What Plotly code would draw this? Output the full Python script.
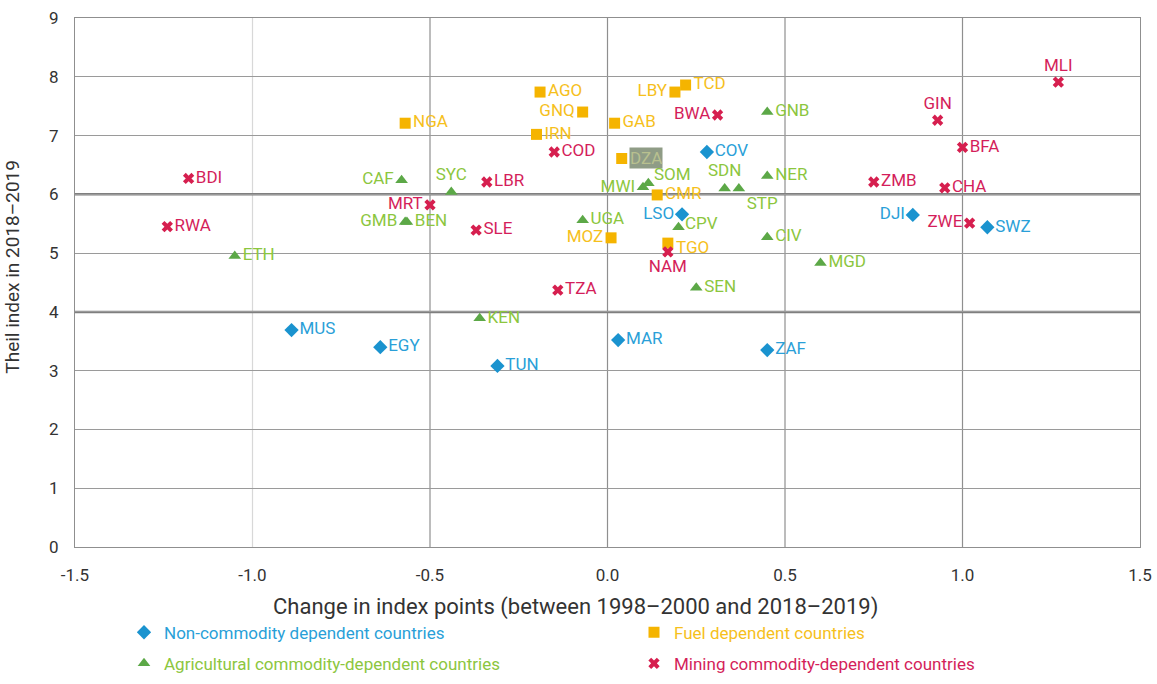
import plotly.graph_objects as go

# Country groups: codes, change in index points (x), Theil index 2018-2019 (y)
non_codes = ["MUS", "EGY", "TUN", "MAR", "ZAF", "LSO", "COV", "DJI", "SWZ"]
non_x = [-0.89, -0.64, -0.31, 0.03, 0.45, 0.21, 0.28, 0.86, 1.07]
non_y = [3.69, 3.40, 3.08, 3.52, 3.35, 5.66, 6.72, 5.65, 5.44]

fuel_codes = ["NGA", "AGO", "GNQ", "IRN", "GAB", "LBY", "TCD", "DZA", "CMR", "MOZ", "TGO"]
fuel_x = [-0.57, -0.19, -0.07, -0.20, 0.02, 0.19, 0.22, 0.04, 0.14, 0.01, 0.17]
fuel_y = [7.21, 7.74, 7.40, 7.02, 7.21, 7.74, 7.86, 6.61, 5.99, 5.26, 5.17]

agri_codes = ["ETH", "CAF", "GMB", "BEN", "SYC", "UGA", "MWI", "SOM", "CPV", "SDN",
              "STP", "GNB", "NER", "CIV", "SEN", "MGD", "KEN"]
agri_x = [-1.05, -0.58, -0.57, -0.565, -0.44, -0.07, 0.10, 0.115, 0.20, 0.33,
          0.37, 0.45, 0.45, 0.45, 0.25, 0.60, -0.36]
agri_y = [4.95, 6.24, 5.53, 5.53, 6.04, 5.56, 6.12, 6.19, 5.44, 6.10,
          6.10, 7.40, 6.31, 5.27, 4.41, 4.83, 3.89]

mine_codes = ["BDI", "RWA", "MRT", "LBR", "SLE", "COD", "TZA", "NAM", "BWA",
              "GIN", "MLI", "BFA", "ZMB", "CHA", "ZWE"]
mine_x = [-1.18, -1.24, -0.50, -0.34, -0.37, -0.15, -0.14, 0.17, 0.31,
          0.93, 1.27, 1.00, 0.75, 0.95, 1.02]
mine_y = [6.27, 5.45, 5.82, 6.21, 5.39, 6.72, 4.37, 5.02, 7.35,
          7.26, 7.91, 6.80, 6.21, 6.11, 5.51]

x_ticks = [-1.5, -1.0, -0.5, 0.0, 0.5, 1.0, 1.5]
y_ticks = list(range(0, 10))

# Label placement for codes whose label is not to the right of the marker
label_side = {
    "LSO": "middle left", "DJI": "middle left", "GNQ": "middle left",
    "LBY": "middle left", "MOZ": "middle left", "CAF": "middle left",
    "GMB": "middle left", "MWI": "middle left", "MRT": "middle left",
    "BWA": "middle left", "ZWE": "middle left",
    "SYC": "top center", "SDN": "top center", "GIN": "top center",
    "MLI": "top center",
    "STP": "bottom right", "NAM": "bottom center",
}
# Labels drawn as annotations: (x shift, y shift, background)
annotated_labels = {
    "DZA": (7, 0, "#8f9c86"),
    "SOM": (5, 9, None),
    "CPV": (5, 4, None),
    "TGO": (7, -4, None),
}

FONT = "Roboto, Liberation Sans, sans-serif"
LABEL_SIZE = 17

groups = [
    ("Non-commodity dependent countries", non_codes, non_x, non_y,
     "diamond", 11, "#1a93cf", "#2a9fd8", "legend"),
    ("Fuel dependent countries", fuel_codes, fuel_x, fuel_y,
     "square", 11, "#f5b400", "#f6c01c", "legend2"),
    ("Agricultural commodity-dependent countries", agri_codes, agri_x, agri_y,
     "triangle-up", 11, "#5ca847", "#8cc63e", "legend"),
    ("Mining commodity-dependent countries", mine_codes, mine_x, mine_y,
     "x", 10, "#d61f4f", "#d41e5a", "legend2"),
]

fig = go.Figure()
annotations = []
for name, codes, xs, ys, symbol, size, mcolor, tcolor, leg in groups:
    texts = ["" if c in annotated_labels else c for c in codes]
    positions = [label_side.get(c, "middle right") for c in codes]
    fig.add_trace(go.Scatter(
        x=xs, y=ys, mode="markers+text", text=texts, textposition=positions,
        textfont=dict(family=FONT, size=LABEL_SIZE, color=tcolor),
        marker=dict(symbol=symbol, size=size, color=mcolor, line=dict(width=0)),
        name=f'<span style="color:{tcolor}">{name}</span>',
        legend=leg, legendgroup=name, cliponaxis=False,
    ))
    for c, xv, yv in zip(codes, xs, ys):
        if c in annotated_labels:
            dx, dy, bg = annotated_labels[c]
            ann = dict(
                x=xv, y=yv, xref="x", yref="y", text=c, showarrow=False,
                xanchor="left", xshift=dx, yshift=dy, borderpad=0,
                font=dict(family=FONT, size=LABEL_SIZE, color=tcolor),
            )
            if bg:
                ann["bgcolor"] = bg
                ann["font"] = dict(family=FONT, size=LABEL_SIZE, color="#b8c08f")
            annotations.append(ann)

# axis titles
annotations.append(dict(
    text="Change in index points (between 1998\u20132000 and 2018\u20132019)",
    x=(575 - 75) / 1065, xref="paper", y=-0.113, yref="paper",
    xanchor="center", yanchor="middle", showarrow=False,
    font=dict(family=FONT, size=22, color="#333333"),
))
annotations.append(dict(
    text="Theil index in 2018\u20132019", textangle=-90,
    x=-(75 - 13) / 1065, xref="paper", y=0.53, yref="paper",
    xanchor="center", yanchor="middle", showarrow=False,
    font=dict(family=FONT, size=19, color="#333333"),
))

shapes = []
# vertical grid lines
for xv in [-1.0, -0.5, 0.0, 0.5, 1.0]:
    shapes.append(dict(type="line", xref="x", yref="y", x0=xv, x1=xv, y0=0, y1=9,
                       layer="below",
                       line=dict(color="#d8d8d8" if xv == -1.0 else "#8f8f8f", width=1.2)))
# emphasised horizontal lines
for yv in [4, 6]:
    shapes.append(dict(type="line", xref="x", yref="y", x0=-1.5, x1=1.5, y0=yv, y1=yv,
                       layer="below", line=dict(color="#7f7f7f", width=2.5)))

legend_common = dict(orientation="v", yanchor="top", xanchor="left",
                     tracegroupgap=6, itemwidth=30, bgcolor="rgba(0,0,0,0)",
                     font=dict(family=FONT, size=17))

fig.update_layout(
    width=1157, height=684,
    margin=dict(l=75, r=17, t=18, b=137, autoexpand=False),
    paper_bgcolor="white", plot_bgcolor="white",
    font=dict(family=FONT, size=17, color="#333333"),
    showlegend=True,
    legend=dict(x=(124 - 75) / 1065, y=-0.128, **legend_common),
    legend2=dict(x=(634 - 75) / 1065, y=-0.128, **legend_common),
    xaxis=dict(range=[-1.5, 1.5], tickvals=x_ticks,
               ticktext=[f"{v:.1f}" for v in x_ticks],
               showgrid=False, zeroline=False, showline=True, mirror=True,
               linecolor="#8f8f8f", linewidth=1.2, ticks="", ticklabelstandoff=12,
               tickfont=dict(family=FONT, size=17, color="#333333")),
    yaxis=dict(range=[0, 9], tickvals=y_ticks, showgrid=True, gridcolor="#9a9a9a",
               gridwidth=1, zeroline=False, showline=True, mirror=True,
               linecolor="#8f8f8f", linewidth=1.2, ticks="", ticklabelstandoff=12,
               tickfont=dict(family=FONT, size=17, color="#333333")),
    annotations=annotations,
    shapes=shapes,
)

fig.write_html("out.html")
